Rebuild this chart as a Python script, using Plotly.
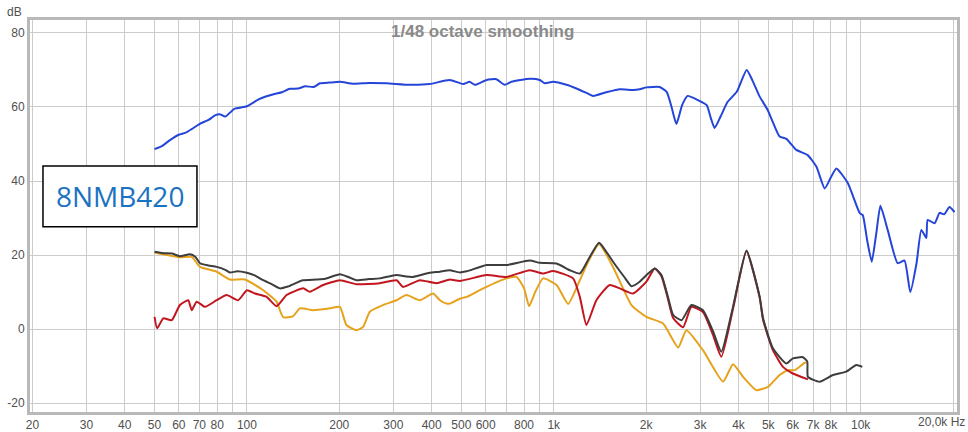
import plotly.graph_objects as go

# ---------------- data ----------------
blue_f = [50, 53, 56, 60, 63, 66, 70, 75, 79, 82, 85, 91, 100, 110, 123, 130, 138, 147, 155, 165, 173, 186,
          201, 222, 250, 285, 340, 394, 458, 507, 532, 553, 604, 650, 692, 728, 835, 900, 935, 995, 1100,
          1186, 1278, 1343, 1486, 1641, 1812, 1905, 2004, 2213, 2333, 2420, 2510, 2620, 2730, 2944, 3150,
          3250, 3343, 3500, 3686, 3947, 4252, 4450, 4688, 4977, 5200, 5447, 5728, 6175, 6720, 7172, 7636,
          8000, 8336, 9074, 9933, 10160, 10500, 10870, 11250, 11600, 12250, 13200, 13900, 14510, 15210,
          15770, 16370, 16530, 17420, 18080, 18700, 19480, 20230]
blue_db = [48.6, 49.5, 51.0, 52.5, 53.0, 54.0, 55.4, 56.5, 57.8, 58.0, 57.4, 59.5, 60.2, 62.2, 63.5, 64.0,
           64.9, 65.0, 65.6, 65.4, 66.4, 66.6, 66.8, 66.3, 66.5, 66.4, 66.0, 66.2, 67.3, 66.2, 66.8, 66.0,
           67.3, 67.5, 66.0, 66.8, 67.6, 67.3, 66.4, 66.8, 66.0, 65.0, 63.8, 63.0, 64.0, 64.8, 64.6, 64.8,
           65.3, 65.4, 64.1, 60.0, 55.4, 60.5, 63.0, 61.9, 60.5, 57.0, 54.3, 57.5, 61.4, 64.1, 70.0, 67.0,
           62.8, 59.2, 55.5, 52.0, 51.4, 48.4, 47.0, 43.9, 38.0, 41.0, 43.4, 39.5, 31.3, 30.8, 24.0, 18.2,
           26.0, 33.3, 26.8, 17.8, 18.5, 10.0, 17.8, 26.8, 24.6, 29.5, 28.6, 31.4, 31.0, 33.0, 31.6]

black_f = [50, 53.4, 57, 60.5, 65.2, 68, 70.3, 75, 79.7, 85, 88, 93, 100, 106, 113, 120, 128, 136, 145, 152,
           168.7, 180, 201, 215, 227.6, 250, 271, 307, 330, 348, 394, 425, 458, 494, 520, 604, 701, 835, 900,
           1021, 1128, 1216, 1300, 1405, 1480, 1560, 1700, 1791, 1905, 2000, 2133, 2243, 2350, 2449, 2608,
           2809, 3063, 3300, 3516, 3838, 4246, 4688, 4808, 5177, 5728, 6018, 6486, 6700, 6733, 7348, 8128,
           8976, 9677, 10127]
black_db = [20.9, 20.5, 20.4, 19.7, 20.2, 19.5, 17.8, 17.2, 16.8, 16.0, 15.3, 15.6, 15.2, 14.5, 13.2, 12.2,
            11.0, 11.5, 12.5, 13.2, 13.4, 13.6, 14.8, 14.0, 13.2, 13.5, 13.7, 14.6, 14.2, 14.1, 15.2, 15.5,
            15.9, 15.3, 15.6, 17.3, 17.3, 18.5, 17.9, 17.7, 15.9, 15.0, 19.0, 23.3, 21.0, 18.2, 14.0, 11.6,
            12.8, 14.5, 16.4, 14.6, 9.0, 3.8, 2.4, 6.5, 5.1, -0.5, -6.1, 6.0, 21.2, 8.7, 2.9, -5.2, -9.3,
            -7.9, -7.6, -8.8, -12.9, -14.2, -12.4, -11.5, -9.7, -10.2]

red_f = [50, 51, 53.4, 56.9, 60.5, 64.4, 66.1, 68.6, 73, 79.7, 85.9, 93.7, 100, 106.2, 115.9, 124.9, 134.7,
         152.6, 160.4, 177.2, 201, 227.6, 271, 307.4, 323, 366, 415, 458.5, 494, 604, 701, 835, 923, 995,
         1156, 1216, 1278, 1377, 1521, 1641, 1812, 2004, 2133, 2243, 2350, 2449, 2639, 2809, 3063, 3300,
         3516, 3838, 4246, 4688, 4808, 5177, 5585, 6018, 6733]
red_db = [3.3, 0.2, 2.9, 2.4, 6.5, 7.8, 5.1, 7.4, 6.0, 7.8, 9.2, 7.8, 10.5, 9.6, 8.7, 6.2, 9.2, 11.0, 10.1,
          11.9, 13.2, 12.1, 12.4, 13.2, 11.4, 13.2, 12.4, 13.4, 13.0, 14.6, 14.1, 15.9, 15.0, 15.7, 13.7, 8.7,
          1.1, 7.8, 11.9, 11.0, 9.6, 12.8, 16.4, 14.3, 8.5, 3.0, 0.5, 6.0, 4.6, -1.5, -7.5, 5.5, 21.0, 8.5,
          2.5, -5.7, -10.2, -12.0, -13.6]

orange_f = [50, 60.5, 66.1, 70.3, 79.7, 88, 98.5, 113, 124.9, 131.3, 141.5, 148.8, 164.4, 186.4, 201, 211,
            227.6, 239.2, 251.6, 278, 307.4, 331, 366, 404.5, 425.5, 447, 458.5, 494, 520, 589, 701, 756, 800,
            831, 870, 923, 1021, 1114, 1216, 1300, 1405, 1560, 1791, 2004, 2271, 2543, 2705, 3063, 3561, 3838,
            4139, 4573, 4989, 5447, 5797, 6095, 6572, 6653]
orange_db = [20.7, 19.4, 19.5, 16.8, 15.5, 13.4, 13.4, 10.5, 7.4, 3.2, 3.5, 5.6, 5.1, 5.6, 6.0, 1.1, -0.3,
             0.6, 4.7, 6.5, 7.8, 9.2, 7.8, 9.6, 7.8, 6.9, 6.9, 8.2, 8.7, 11.0, 13.7, 14.1, 11.0, 6.2, 10.0,
             13.7, 11.9, 6.8, 13.2, 18.5, 23.0, 16.8, 6.5, 3.3, 1.5, -5.0, -0.3, -5.7, -14.2, -9.5, -12.9,
             -16.5, -15.6, -12.4, -11.1, -11.1, -9.1, -9.0]

x_tickvals = [20, 30, 40, 50, 60, 70, 80, 90, 100, 200, 300, 400, 500, 600, 700, 800, 900,
              1000, 2000, 3000, 4000, 5000, 6000, 7000, 8000, 9000, 10000, 20000]
x_ticktext = ["20", "30", "40", "50", "60", "70", "80", "", "100", "200", "300", "400", "500", "600", "",
              "800", "", "1k", "2k", "3k", "4k", "5k", "6k", "7k", "8k", "", "10k", ""]
last_tick_text = "20,0k Hz"
y_tickvals = [-20, 0, 20, 40, 60, 80]
y_ticktext = ["-20", "0", "20", "40", "60", "80"]

title_text = "1/48 octave smoothing"
label_text = "8NMB420"

# ---------------- figure ----------------
FONT = "Liberation Sans, Arial, sans-serif"
fig = go.Figure()
series = [
    (orange_f, orange_db, "#e6a21c"),
    (red_f, red_db, "#c2161f"),
    (black_f, black_db, "#3d3d3d"),
    (blue_f, blue_db, "#2445d8"),
]
for f, d, c in series:
    fig.add_trace(go.Scatter(x=f, y=d, mode="lines",
                             line=dict(color=c, width=2, shape="spline", smoothing=0.5),
                             hoverinfo="skip", showlegend=False))

fig.update_layout(
    width=968, height=432,
    margin=dict(l=30, r=11, t=20, b=20, autoexpand=False),
    paper_bgcolor="white", plot_bgcolor="white",
    font=dict(family=FONT, size=12, color="#505050"),
    showlegend=False,
)
fig.update_xaxes(type="log", range=[1.2932, 4.314], automargin=False,
                 tickmode="array", tickvals=x_tickvals, ticktext=x_ticktext,
                 ticklabeloverflow="allow",
                 showgrid=True, gridcolor="#cccccc", gridwidth=1,
                 showline=True, linecolor="#b9b9b9", linewidth=3, mirror=True,
                 ticks="", zeroline=False, tickfont=dict(size=12, color="#505050"))
fig.update_yaxes(range=[-22.4, 83.5], automargin=False,
                 tickmode="array", tickvals=y_tickvals, ticktext=y_ticktext,
                 ticklabeloverflow="allow",
                 showgrid=True, gridcolor="#cccccc", gridwidth=1,
                 showline=True, linecolor="#b9b9b9", linewidth=3, mirror=True,
                 ticks="", zeroline=False, tickfont=dict(size=12, color="#505050"))

# last x label (kept inside the window)
fig.add_annotation(text=last_tick_text, xref="paper", yref="paper", x=1.0108, y=-0.0255,
                   showarrow=False, xanchor="right", yanchor="middle",
                   font=dict(family=FONT, size=12, color="#505050"))

fig.add_annotation(text=title_text, xref="paper", yref="paper", x=0.4876, y=0.970,
                   showarrow=False, xanchor="center", yanchor="middle",
                   font=dict(family=FONT, size=17, color="#8a8a8a", weight="bold"))
fig.add_annotation(text="dB", xref="paper", yref="paper", x=-0.0162, y=1.0204,
                   showarrow=False, xanchor="center", yanchor="middle",
                   font=dict(family=FONT, size=12, color="#505050"))

fig.add_shape(type="rect", xref="paper", yref="paper", x0=0.014, x1=0.1801, y0=0.4727, y1=0.6276,
              line=dict(color="black", width=1.5), fillcolor="white", layer="above")
fig.add_annotation(text=label_text, xref="paper", yref="paper", x=0.0971, y=0.551,
                   showarrow=False, xanchor="center", yanchor="middle",
                   font=dict(family="Open Sans, sans-serif", size=28, color="#1b72c2"))

fig.write_html("out.html")
